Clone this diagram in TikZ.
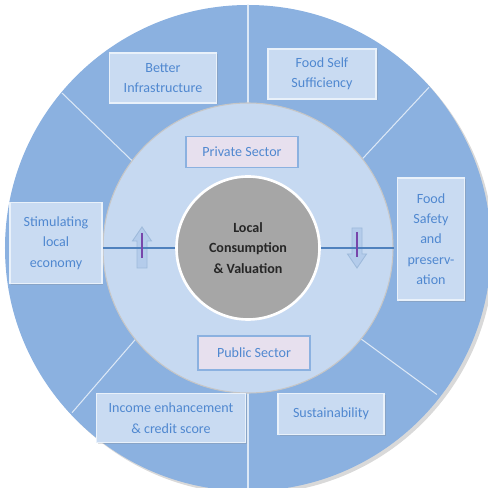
\documentclass[tikz,border=0pt]{standalone}
\usepackage{fontspec}
\setmainfont{Carlito}
\usetikzlibrary{shadows}
\definecolor{ringblue}{RGB}{139,177,224}
\definecolor{innerblue}{RGB}{198,217,241}
\definecolor{boxblue}{RGB}{201,219,242}
\definecolor{textblue}{RGB}{80,136,208}
\definecolor{barblue}{RGB}{79,129,189}
\definecolor{sectorpink}{RGB}{231,224,238}
\definecolor{hubgray}{RGB}{166,166,166}
\definecolor{markpurple}{RGB}{120,70,170}

\begin{document}
\begin{tikzpicture}[
    font=\fontsize{8}{11.6}\selectfont,
    goalbox/.style={draw=white!60!boxblue, line width=0.6pt, fill=boxblue, text=textblue,
        align=center, inner sep=0pt,
        drop shadow={opacity=0.25, shadow xshift=0.03cm, shadow yshift=-0.03cm}},
    sectorbox/.style={draw=ringblue, line width=0.6pt, fill=sectorpink, text=textblue, inner sep=0pt},
    divider/.style={white!70!ringblue, line width=0.6pt},
    bar/.style={barblue, line width=1.7pt},
    blockarrow/.style={draw=barblue!55, fill=ringblue!65!white, line width=0.5pt},
    purpleline/.style={markpurple, line width=0.6pt}
]
    \useasboundingbox (-4.96,-4.80) rectangle (4.80,4.96);

    % outer ring and its sector lines
    \fill[ringblue, drop shadow={opacity=0.3, shadow xshift=0.06cm, shadow yshift=-0.06cm}] (0,0) circle (4.86);
    \draw[divider] (0,2.8) -- (90:4.86);
    \draw[divider] (0,-2.8) -- (270:4.86);
    \draw[divider] (143.3:2.8) -- (140.2:4.84);
    \draw[divider] (37.6:2.8) -- (41.6:4.84);
    \draw[divider] (218.7:2.8) -- (223.1:4.82);
    \draw[divider] (-38.9:2.8) -- (-37.8:4.78);

    % inner ring
    \node[circle, fill=innerblue, draw=gray!45, line width=0.6pt, minimum size=5.8cm] (inner) at (0,0) {};

    % centre
    \node[circle, fill=hubgray, draw=white, line width=1.5pt, minimum size=2.86cm, align=center,
        font=\fontsize{8}{11.6}\selectfont\bfseries, text=black!85] (hub) at (0,0) {Local\\Consumption\\\& Valuation};

    % arrows on the bars
    \draw[blockarrow, shift={(-2.12,0)}] (-0.10,-0.40) -- (-0.10,0.14) -- (-0.19,0.14) -- (0,0.42)
        -- (0.19,0.14) -- (0.10,0.14) -- (0.10,-0.40) -- cycle;
    \draw[blockarrow, shift={(2.18,0)}] (-0.10,0.40) -- (-0.10,-0.12) -- (-0.19,-0.12) -- (0,-0.40)
        -- (0.19,-0.12) -- (0.10,-0.12) -- (0.10,0.40) -- cycle;
    \draw[bar] (hub.west) -- (inner.west);
    \draw[bar] (hub.east) -- (inner.east);
    \draw[purpleline] (-2.12,0.30) -- (-2.12,-0.20);
    \draw[purpleline] (2.18,0.32) -- (2.18,-0.18);

    % sectors
    \node[sectorbox, minimum width=2.24cm, minimum height=0.62cm] (private) at (-0.12,1.92) {Private Sector};
    \node[sectorbox, minimum width=2.24cm, minimum height=0.68cm] (public) at (0.12,-2.10) {Public Sector};

    % outcomes around the ring
    \node[goalbox, minimum width=2.14cm, minimum height=1.0cm] (infra) at (-1.70,3.40) {Better\\Infrastructure};
    \node[goalbox, minimum width=2.16cm, minimum height=1.0cm] (selfsuff) at (1.48,3.48) {Food Self\\Sufficiency};
    \node[goalbox, minimum width=1.84cm, minimum height=1.62cm] (economy) at (-3.84,0.10) {Stimulating\\local\\economy};
    \node[goalbox, minimum width=1.34cm, minimum height=2.44cm] (safety) at (3.66,0.18) {Food\\Safety\\and\\preserv-\\ation};
    \node[goalbox, minimum width=2.98cm, minimum height=0.98cm] (income) at (-1.54,-3.40) {Income enhancement\\\& credit score};
    \node[goalbox, minimum width=2.12cm, minimum height=0.82cm] (sustain) at (1.66,-3.32) {Sustainability};
\end{tikzpicture}
\end{document}
